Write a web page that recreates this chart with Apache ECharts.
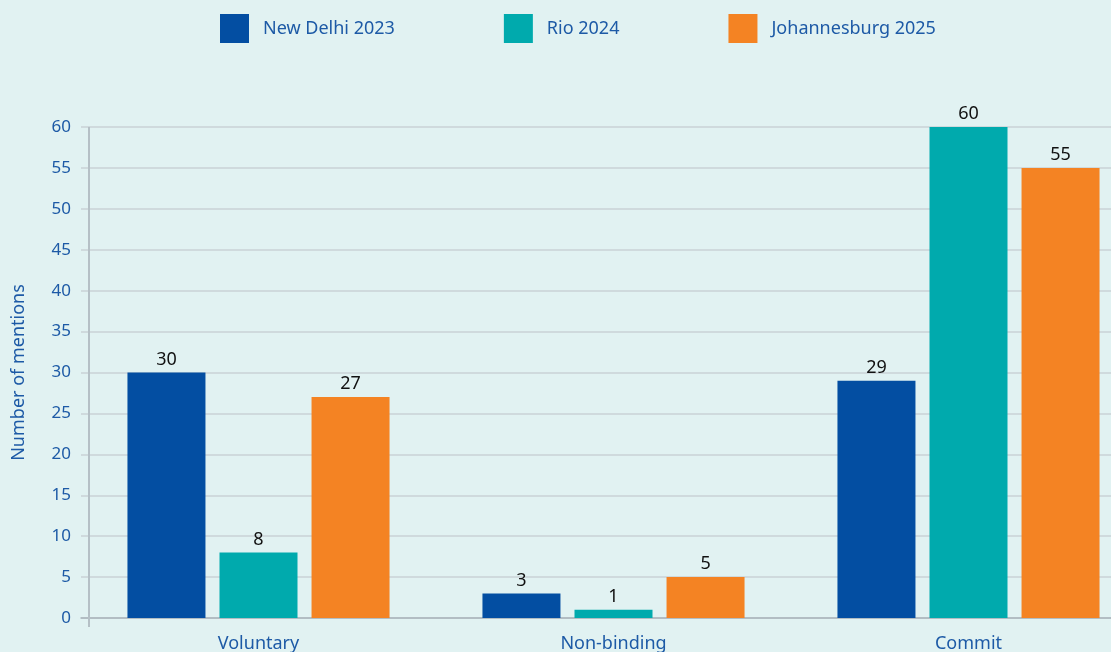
<!DOCTYPE html>
<html>
<head>
<meta charset="utf-8">
<script src="https://cdn.jsdelivr.net/npm/echarts@6/dist/echarts.min.js"></script>
<style>
html,body{margin:0;padding:0;background:#e1f2f2;}
#chart{width:1111px;height:652px;}
</style>
</head>
<body>
<div id="chart"></div>
<script>
const categories = ['Voluntary', 'Non-binding', 'Commit'];
const newDelhi2023 = [30, 3, 29];
const rio2024 = [8, 1, 60];
const johannesburg2025 = [27, 5, 55];
const seriesNames = ['New Delhi 2023', 'Rio 2024', 'Johannesburg 2025'];

const FONT = '"Noto Sans", "Open Sans", sans-serif';
const BLUE_TEXT = '#1d5aa6';
const colors = ['#034ea2', '#00aaad', '#f48323'];

const chart = echarts.init(document.getElementById('chart'), null, {renderer: 'canvas'});

function mkSeries(name, data, color) {
  return {
    name: name,
    type: 'bar',
    data: data,
    barWidth: 78,
    barGap: '18%',
    itemStyle: {color: color},
    label: {
      show: true,
      position: 'top',
      distance: 4,
      color: '#111',
      fontFamily: FONT,
      fontSize: 18
    }
  };
}

chart.setOption({
  backgroundColor: '#e1f2f2',
  animation: false,
  textStyle: {fontFamily: FONT},
  legend: {
    top: 9,
    left: 215,
    itemWidth: 29,
    itemHeight: 29,
    itemGap: 109,
    icon: 'rect',
    textStyle: {color: BLUE_TEXT, fontSize: 18, fontFamily: FONT, padding: [0, 0, 0, 9]},
    data: seriesNames
  },
  grid: {left: 81, width: 1065, top: 127, height: 491, containLabel: false, outerBoundsMode: 'none'},
  xAxis: {
    type: 'category',
    data: categories,
    axisLine: {show: true, lineStyle: {color: '#a9b4bb', width: 1.5}},
    axisTick: {show: false},
    axisLabel: {color: BLUE_TEXT, fontSize: 18, fontFamily: FONT, margin: 17}
  },
  yAxis: {
    type: 'value',
    min: 0,
    max: 60,
    interval: 5,
    name: 'Number of mentions',
    nameLocation: 'middle',
    nameGap: 53,
    nameTextStyle: {color: BLUE_TEXT, fontSize: 18, fontFamily: FONT},
    axisLine: {show: false},
    axisTick: {show: false},
    axisLabel: {color: BLUE_TEXT, fontSize: 17, fontFamily: FONT, margin: 10},
    splitLine: {show: true, lineStyle: {color: '#c9d2d6', width: 1.5}}
  },
  graphic: [{
    type: 'line',
    shape: {x1: 89, y1: 127, x2: 89, y2: 627},
    style: {stroke: '#b5c0c6', lineWidth: 2},
    z: 10
  }],
  series: [
    mkSeries(seriesNames[0], newDelhi2023, colors[0]),
    mkSeries(seriesNames[1], rio2024, colors[1]),
    mkSeries(seriesNames[2], johannesburg2025, colors[2])
  ]
});
</script>
</body>
</html>
